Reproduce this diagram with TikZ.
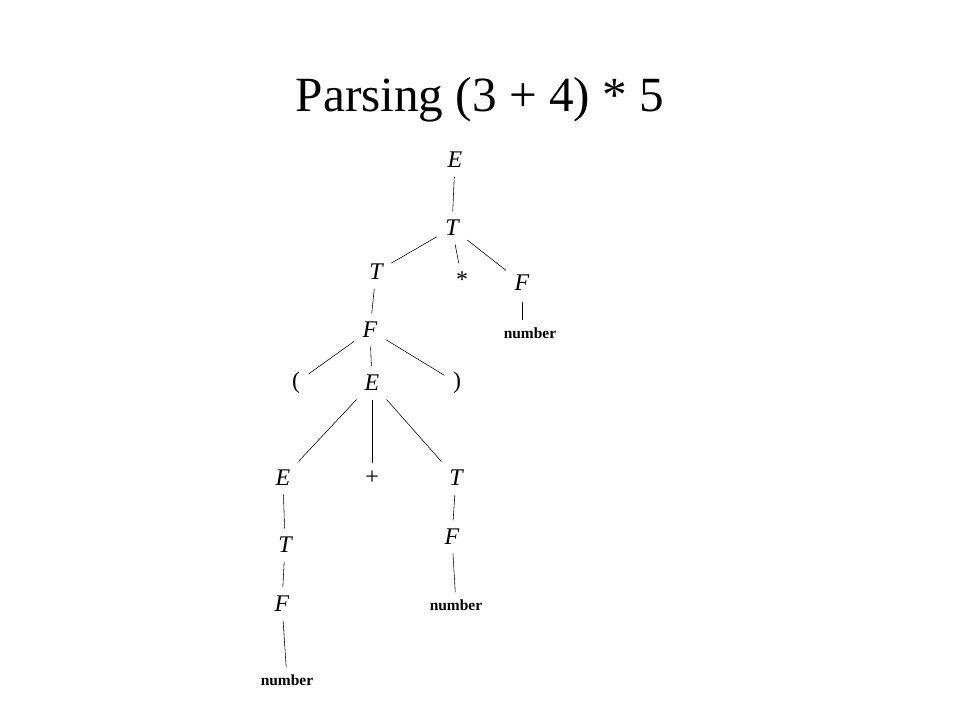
\documentclass[tikz,border=0pt]{standalone}
\usepackage{fontspec}
\setmainfont{Liberation Serif}
\begin{document}
\begin{tikzpicture}[x=0.025cm, y=-0.025cm, thin]
        \tikzset{sym/.style={font=\fontsize{17}{17}\selectfont\itshape, inner sep=6pt},
                 tok/.style={font=\fontsize{17}{17}\selectfont, inner sep=6pt},
                 num/.style={font=\fontsize{11}{11}\selectfont\bfseries, inner sep=5pt}}
        \useasboundingbox (0,0) rectangle (960,720);
        \node at (480,100) {\fontsize{35}{35}\selectfont Parsing (3 + 4) * 5};

        \node[sym] (e0) at (455,160) {E};
        \node[sym] (t0) at (452,228) {T};
        \node[sym] (t1) at (376,272) {T};
        \node[tok] (mul) at (462,280) {*};
        \node[sym] (f0) at (522,283) {F};
        \node[num] (n0) at (530,333) {number};
        \node[sym] (f1) at (370,330) {F};
        \node[tok] (lp) at (296,383) {(};
        \node[sym] (e1) at (372,383) {E};
        \node[tok] (rp) at (457,383) {)};
        \node[sym] (e2) at (283,478) {E};
        \node[tok] (plus) at (372,478) {+};
        \node[sym] (t2) at (456,478) {T};
        \node[sym] (t3) at (285,545) {T};
        \node[sym] (f2) at (452,537) {F};
        \node[sym] (f3) at (282,604) {F};
        \node[num] (n1) at (456,605) {number};
        \node[num] (n2) at (287,680) {number};

        \draw (e0) -- (t0);
        \draw (t0) -- (t1);
        \draw (t0) -- (mul);
        \draw (t0) -- (f0);
        \draw (f0.south -| 522,0) ++(0,2) -- (n0.north -| 522,0);
        \draw (t1) -- (f1);
        \draw (f1) -- (lp);
        \draw (f1) -- (e1);
        \draw (f1) -- (rp);
        \draw (e1) -- (e2);
        \draw (e1) -- (plus);
        \draw (e1) -- (t2);
        \draw (e2) -- (t3);
        \draw (t3) -- (f3);
        \draw (f3) -- (n2);
        \draw (t2) -- (f2);
        \draw (f2) -- (n1);
\end{tikzpicture}
\end{document}
